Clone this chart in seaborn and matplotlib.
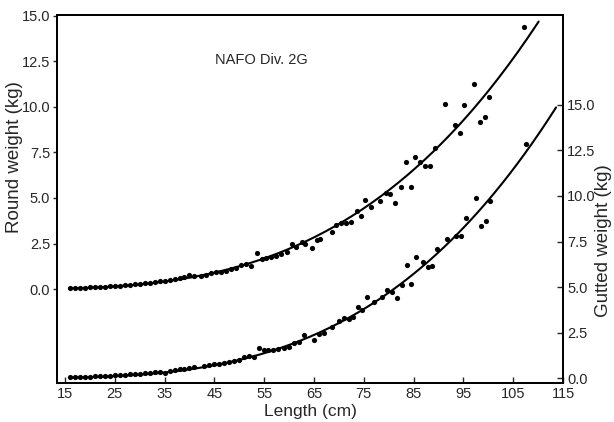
import numpy as np
import pandas as pd
import matplotlib
matplotlib.use("Agg")
import matplotlib.pyplot as plt
import seaborn as sns

# ---- data ----
round_len = [16, 17, 18, 19, 20, 21, 22, 23, 24, 25, 26, 27, 28, 29, 30, 31, 32, 33, 34, 35,
             36, 37, 38, 39, 40, 41,
             42.3, 43.3, 44.3, 45.3, 46.3, 47.3, 48.3, 49.3, 50.3, 51.3, 52.3, 53.5, 54.5, 55.4,
             56.3, 57.3, 58.3, 59.5, 60.5, 61.3, 62.5, 63.2, 64.6, 65.7, 66.3, 68.7, 69.5, 70.5,
             71.5, 72.5, 73.6, 74.5, 75.3, 76.5, 78.3, 79.5, 80.3, 81.3, 82.4, 83.4, 84.4, 85.2,
             86.2, 87.3, 88.3, 89.3, 91.3, 93.3, 94.4, 95.2, 97.2, 98.3, 99.3, 100.1, 107.2]
round_wt = [0.05, 0.05, 0.06, 0.07, 0.09, 0.10, 0.12, 0.13, 0.15, 0.17, 0.19, 0.21, 0.24, 0.26,
            0.29, 0.32, 0.35, 0.39, 0.43, 0.46, 0.50, 0.55, 0.60, 0.66, 0.78, 0.72,
            0.71, 0.77, 0.86, 0.95, 0.95, 0.99, 1.10, 1.14, 1.32, 1.37, 1.28, 1.96, 1.63, 1.70,
            1.78, 1.83, 1.90, 2.05, 2.46, 2.33, 2.57, 2.46, 2.24, 2.69, 2.75, 3.12, 3.52, 3.61,
            3.64, 3.70, 4.29, 4.01, 4.89, 4.52, 4.85, 5.29, 5.22, 4.71, 5.62, 6.96, 5.62, 7.27,
            6.96, 6.78, 6.76, 7.75, 10.15, 8.99, 8.55, 10.09, 11.25, 9.19, 9.47, 10.57, 14.41]

gut_len = [16, 17, 18, 19, 20, 21, 22, 23, 24, 25, 26, 27, 28, 29, 30, 31, 32, 33, 34, 35,
           36, 37, 38, 39, 40, 41,
           42.9, 43.9, 44.9, 45.9, 46.9, 47.9, 48.9, 49.9, 50.9, 51.9, 52.9, 53.9, 54.9, 55.8,
           56.8, 57.8, 59.0, 59.9, 61.0, 62.0, 63.0, 65.0, 66.0, 67.0, 68.7, 70.0, 71.0, 72.0,
           72.8, 73.9, 74.7, 75.7, 77.1, 78.7, 79.7, 80.7, 81.7, 82.7, 83.7, 84.5, 85.5, 86.8,
           87.8, 88.7, 89.7, 91.7, 93.5, 94.5, 95.5, 97.5, 98.5, 99.6, 100.3, 107.5]
gut_wt = [0.06, 0.05, 0.06, 0.07, 0.08, 0.09, 0.11, 0.12, 0.14, 0.15, 0.17, 0.19, 0.21, 0.23,
          0.25, 0.27, 0.29, 0.31, 0.32, 0.30, 0.40, 0.44, 0.48, 0.52, 0.57, 0.62,
          0.66, 0.71, 0.77, 0.77, 0.81, 0.86, 0.95, 0.99, 1.17, 1.21, 1.14, 1.66, 1.54, 1.54,
          1.54, 1.58, 1.66, 1.72, 1.91, 1.99, 2.36, 2.09, 2.40, 2.49, 2.82, 3.13, 3.28, 3.24,
          3.34, 3.92, 3.74, 4.43, 4.16, 4.47, 4.84, 4.74, 4.40, 5.13, 6.21, 5.15, 6.63, 6.39,
          6.10, 6.17, 7.09, 7.66, 7.82, 7.82, 8.81, 9.87, 8.37, 8.64, 9.74, 12.86]

# fitted length-weight curves W = a * L^b
round_fit = (6.26e-6, 3.12)
round_fit_range = (16, 110.1)
gut_fit = (2.57e-6, 3.29)
gut_fit_range = (16, 113.6)

x_ticks = [15, 25, 35, 45, 55, 65, 75, 85, 95, 105, 115]
y_ticks = [0.0, 2.5, 5.0, 7.5, 10.0, 12.5, 15.0]
title_text = "NAFO Div. 2G"

# ---- plotting ----
sns.set_style("ticks")
plt.rcParams['font.family'] = ['Liberation Sans', 'DejaVu Sans']

fig = plt.figure(figsize=(6.14, 4.22), dpi=100)
ax = fig.add_axes([0.0928, 0.0924, 0.9170 - 0.0928, 0.9645 - 0.0924])
ax2 = ax.twinx()

df_round = pd.DataFrame({"L": round_len, "W": round_wt})
df_gut = pd.DataFrame({"L": gut_len, "W": gut_wt})

L1 = np.linspace(*round_fit_range, 200)
L2 = np.linspace(*gut_fit_range, 200)
fit_round_df = pd.DataFrame({"L": L1, "W": round_fit[0] * L1 ** round_fit[1]})
fit_gut_df = pd.DataFrame({"L": L2, "W": gut_fit[0] * L2 ** gut_fit[1]})

sns.lineplot(data=fit_round_df, x="L", y="W", ax=ax, color="black", lw=1.5)
sns.scatterplot(data=df_round, x="L", y="W", ax=ax, color="black", s=14,
                edgecolor="black", linewidth=0, zorder=3)
sns.lineplot(data=fit_gut_df, x="L", y="W", ax=ax2, color="black", lw=1.5)
sns.scatterplot(data=df_gut, x="L", y="W", ax=ax2, color="black", s=14,
                edgecolor="black", linewidth=0, zorder=3)

ax.set_xlim(13.4, 115)
ax.set_ylim(-5.16, 15.05)
ax2.set_ylim(-0.27, 19.94)

ax.set_xticks(x_ticks)
ax.set_yticks(y_ticks)
ax2.set_yticks(y_ticks)
ax.set_yticklabels([f"{v:.1f}" for v in y_ticks])
ax2.set_yticklabels([f"{v:.1f}" for v in y_ticks])

ax.tick_params(axis='x', direction='in', length=4, width=1, labelsize=10.5, pad=3)
ax.tick_params(axis='y', direction='out', length=3, width=1, labelsize=10.5, pad=2)
ax2.tick_params(axis='y', direction='in', length=4, width=1, labelsize=10.5, pad=3)

for a in (ax, ax2):
    for s in a.spines.values():
        s.set_linewidth(1.3)
        s.set_visible(True)
        s.set_color("black")

ax.set_xlabel("Length (cm)", fontsize=12.5, labelpad=2)
ax.set_ylabel("Round weight (kg)", fontsize=13.5)
ax2.set_ylabel("Gutted weight (kg)", fontsize=13.5, rotation=90)
ax.yaxis.set_label_coords(-0.067, 0.614)
ax2.yaxis.set_label_coords(1.063, 0.386)

ax.text(54.4, 12.6, title_text, fontsize=10.5, ha="center", va="center")

fig.savefig("out.png", dpi=100)
